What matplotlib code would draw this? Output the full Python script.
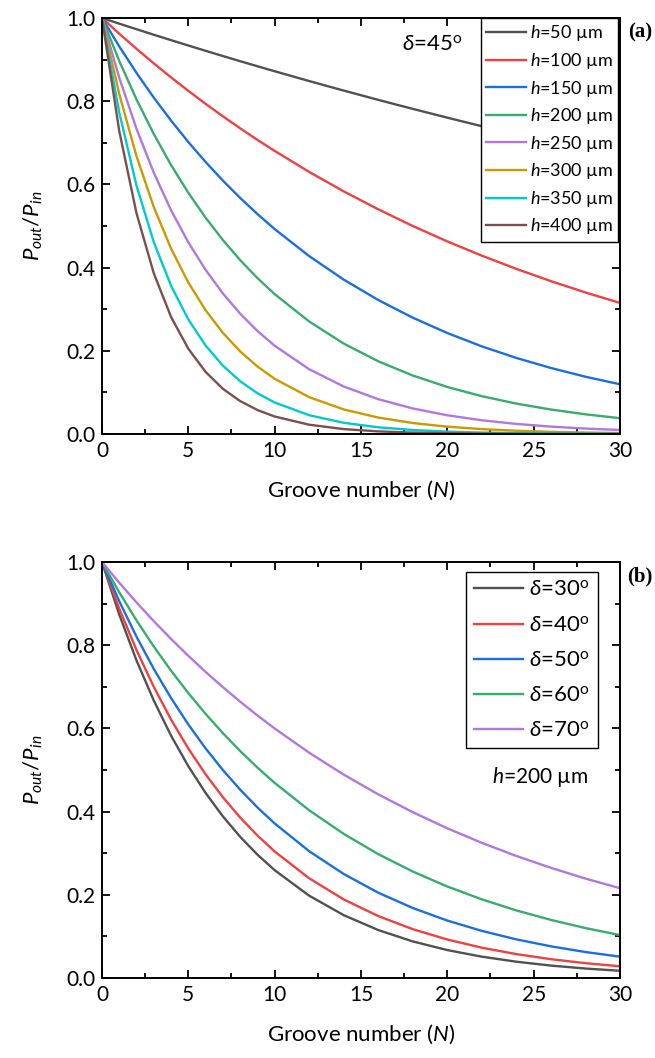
import matplotlib
matplotlib.use('Agg')
import matplotlib.pyplot as plt
from matplotlib.ticker import MultipleLocator

plt.rcParams.update({
    'font.family': ['Lato', 'DejaVu Sans'],
    'font.size': 14,
    'mathtext.fontset': 'custom',
    'mathtext.rm': 'Lato',
    'mathtext.it': 'Lato:italic',
    'axes.linewidth': 1.4,
})

# groove number
N = [0, 1, 2, 3, 4, 5, 6, 7, 8, 9, 10, 12, 14, 16, 18, 20, 22, 24, 26, 28, 30]

# panel (a): delta = 45 deg, different groove heights
h50 = [1, 0.9864, 0.9730, 0.9597, 0.9467, 0.9338, 0.9211, 0.9086, 0.8962, 0.8840, 0.8720,
       0.8484, 0.8255, 0.8032, 0.7815, 0.7604, 0.7398, 0.7198, 0.7003, 0.6814, 0.6630]
h100 = [1, 0.9622, 0.9259, 0.8909, 0.8573, 0.8249, 0.7937, 0.7638, 0.7349, 0.7071, 0.6805,
        0.6300, 0.5833, 0.5401, 0.5000, 0.4630, 0.4287, 0.3969, 0.3675, 0.3403, 0.3151]
h150 = [1, 0.9317, 0.8680, 0.8086, 0.7534, 0.7019, 0.6539, 0.6092, 0.5676, 0.5288, 0.4926,
        0.4276, 0.3711, 0.3221, 0.2796, 0.2427, 0.2106, 0.1828, 0.1587, 0.1377, 0.1195]
h200 = [1, 0.8967, 0.8041, 0.7211, 0.6466, 0.5799, 0.5200, 0.4663, 0.4181, 0.3749, 0.3362,
        0.2704, 0.2174, 0.1748, 0.1406, 0.1130, 0.0909, 0.0731, 0.0588, 0.0473, 0.0380]
h250 = [1, 0.8564, 0.7334, 0.6282, 0.5379, 0.4607, 0.3946, 0.3379, 0.2894, 0.2478, 0.2122,
        0.1557, 0.1142, 0.0837, 0.0614, 0.0450, 0.0330, 0.0242, 0.0178, 0.0130, 0.0096]
h300 = [1, 0.8171, 0.6676, 0.5455, 0.4457, 0.3642, 0.2976, 0.2432, 0.1987, 0.1623, 0.1327,
        0.0886, 0.0591, 0.0395, 0.0264, 0.0176, 0.0117, 0.0078, 0.0052, 0.0035, 0.0023]
h350 = [1, 0.7726, 0.5969, 0.4612, 0.3563, 0.2753, 0.2127, 0.1643, 0.1269, 0.0981, 0.0758,
        0.0452, 0.0270, 0.0161, 0.0096, 0.0057, 0.0034, 0.0020, 0.0012, 0.0007, 0.0004]
h400 = [1, 0.7283, 0.5305, 0.3864, 0.2814, 0.2050, 0.1493, 0.1087, 0.0792, 0.0577, 0.0420,
        0.0223, 0.0118, 0.0063, 0.0033, 0.0018, 0.0009, 0.0005, 0.0003, 0.0001, 0.0001]
labels_a = ['50', '100', '150', '200', '250', '300', '350', '400']

# panel (b): h = 200 um, different angles
d30 = [1, 0.8737, 0.7634, 0.6670, 0.5827, 0.5092, 0.4449, 0.3887, 0.3396, 0.2967, 0.2592,
       0.1979, 0.1511, 0.1153, 0.0880, 0.0672, 0.0513, 0.0392, 0.0299, 0.0228, 0.0174]
d40 = [1, 0.8878, 0.7882, 0.6998, 0.6213, 0.5516, 0.4897, 0.4347, 0.3860, 0.3427, 0.3042,
       0.2398, 0.1890, 0.1490, 0.1174, 0.0926, 0.0729, 0.0575, 0.0453, 0.0357, 0.0282]
d50 = [1, 0.9057, 0.8204, 0.7430, 0.6730, 0.6096, 0.5521, 0.5000, 0.4529, 0.4102, 0.3716,
       0.3048, 0.2501, 0.2051, 0.1683, 0.1381, 0.1133, 0.0929, 0.0762, 0.0625, 0.0513]
d60 = [1, 0.9271, 0.8595, 0.7968, 0.7388, 0.6849, 0.6350, 0.5887, 0.5457, 0.5060, 0.4691,
       0.4032, 0.3465, 0.2978, 0.2560, 0.2200, 0.1891, 0.1625, 0.1397, 0.1201, 0.1032]
d70 = [1, 0.9502, 0.9028, 0.8579, 0.8151, 0.7745, 0.7359, 0.6993, 0.6644, 0.6313, 0.5999,
       0.5416, 0.4890, 0.4415, 0.3986, 0.3599, 0.3249, 0.2934, 0.2649, 0.2391, 0.2159]
labels_b = ['30', '40', '50', '60', '70']

colors = ['#515151', '#F14040', '#1A6FDF', '#37AD6B', '#B177DE', '#CC9900', '#00CBCC', '#7D4E4E']


def style_axis(ax):
    ax.set_xlim(0, 30)
    ax.set_ylim(0, 1.0)
    ax.xaxis.set_major_locator(MultipleLocator(5))
    ax.xaxis.set_minor_locator(MultipleLocator(2.5))
    ax.yaxis.set_major_locator(MultipleLocator(0.2))
    ax.yaxis.set_minor_locator(MultipleLocator(0.1))
    ax.tick_params(which='both', direction='in', top=True, right=True, width=1.3)
    ax.tick_params(which='major', length=6, labelsize=15, pad=5)
    ax.tick_params(which='minor', length=3.5)
    ax.yaxis.set_major_formatter(matplotlib.ticker.FormatStrFormatter('%.1f'))
    ax.set_xlabel('Groove number ($N$)', fontsize=16, labelpad=13)
    ax.set_ylabel('$P_{out}/P_{in}$', fontsize=16, labelpad=15)


fig = plt.figure(figsize=(6.55, 10.58), dpi=100)
ax1 = fig.add_axes([0.1557, 0.5898, 0.7908, 0.3932])
ax2 = fig.add_axes([0.1557, 0.0756, 0.7908, 0.3932])

for y, lab, c in zip([h50, h100, h150, h200, h250, h300, h350, h400], labels_a, colors):
    ax1.plot(N, y, color=c, lw=1.7, label='$h$=' + lab + ' \u00b5m')
style_axis(ax1)
leg = ax1.legend(loc='upper right', bbox_to_anchor=(0.997, 1.0), borderaxespad=0,
                 fontsize=13, handlelength=2.2, handletextpad=0.2, labelspacing=0.42,
                 fancybox=False, edgecolor='black', framealpha=1, borderpad=0.3)
leg.get_frame().set_linewidth(1.0)
ax1.text(19.1, 0.935, r'$\delta$=45$^\mathrm{o}$', fontsize=16, ha='center', va='center')

for y, lab, c in zip([d30, d40, d50, d60, d70], labels_b, colors):
    ax2.plot(N, y, color=c, lw=1.7, label=r'$\delta$=' + lab + r'$^\mathrm{o}$')
style_axis(ax2)
leg2 = ax2.legend(loc='upper right', bbox_to_anchor=(0.957, 0.975), borderaxespad=0,
                  fontsize=16, handlelength=2.2, handletextpad=0.3, labelspacing=0.68,
                  fancybox=False, edgecolor='black', framealpha=1, borderpad=0.35)
leg2.get_frame().set_linewidth(1.0)
ax2.text(25.4, 0.483, '$h$=200 \u00b5m', fontsize=15, ha='center', va='center')

fig.text(0.977, 0.969, '(a)', fontsize=15, fontweight='bold', family='Liberation Serif',
         ha='center', va='center')
fig.text(0.977, 0.455, '(b)', fontsize=15, fontweight='bold', family='Liberation Serif',
         ha='center', va='center')

fig.savefig('out.png', dpi=100)
